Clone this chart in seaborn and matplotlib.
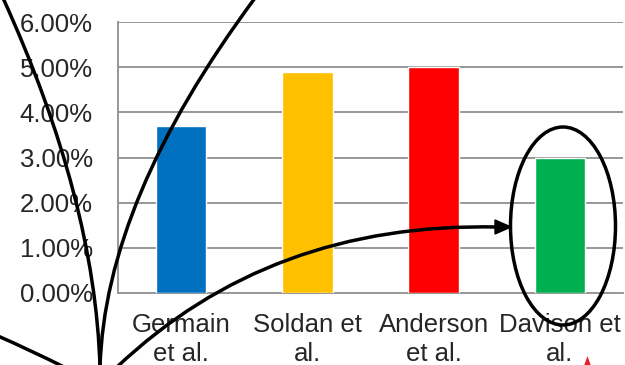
import matplotlib
matplotlib.use("Agg")
import matplotlib.pyplot as plt
import seaborn as sns
import pandas as pd
from matplotlib.path import Path
from matplotlib.patches import PathPatch, Ellipse, Polygon
from matplotlib.ticker import PercentFormatter

categories = ["Germain\net al.", "Soldan et\nal.", "Anderson\net al.", "Davison et\nal."]
values = [0.037, 0.049, 0.050, 0.030]
colors = ["#0070C0", "#FFC000", "#FF0000", "#00B050"]
yticks = [0, 0.01, 0.02, 0.03, 0.04, 0.05, 0.06]

sns.set_style("white")
plt.rcParams["font.family"] = ["Liberation Sans", "DejaVu Sans"]

W, H = 625, 365
fig = plt.figure(figsize=(W / 100, H / 100), dpi=100)
ax = fig.add_axes([118 / W, 1 - 293 / H, (623 - 118) / W, (293 - 22) / H])

df = pd.DataFrame({"cat": categories, "val": values})
sns.barplot(data=df, x="cat", y="val", hue="cat", palette=colors, legend=False,
            width=0.4, saturation=1, ax=ax, zorder=3)

grid_c = "#979797"
FS = 18.5
ax.set_ylim(0, 0.06)
ax.set_yticks(yticks)
ax.yaxis.set_major_formatter(PercentFormatter(1, decimals=2))
ax.set_xlim(-0.5, 3.5)
ax.set_xticks([-0.5, 0.5, 1.5, 2.5, 3.5], minor=False)
ax.set_xticklabels([])
ax.set_xticks([0, 1, 2, 3], minor=True)
ax.set_xticklabels(categories, minor=True)
ax.tick_params(axis="x", which="major", length=6, width=1.4, color=grid_c, direction="out")
ax.tick_params(axis="x", which="minor", length=0, pad=14.5, labelsize=FS)
ax.tick_params(axis="y", length=6, width=1.4, color=grid_c, pad=12, labelsize=FS)
ax.yaxis.grid(True, color=grid_c, linewidth=1.4, zorder=0)
ax.set_axisbelow(True)
for s in ["top", "right"]:
    ax.spines[s].set_visible(False)
for s in ["left", "bottom"]:
    ax.spines[s].set_color(grid_c)
    ax.spines[s].set_linewidth(1.4)
ax.set_xlabel("")
ax.set_ylabel("")
for lbl in ax.get_xticklabels(minor=True):
    lbl.set_linespacing(1.25)


def P(x, y):
    return (x / W, 1 - y / H)


def quad(p0, c, p1, lw=2.5, color="black"):
    path = Path([P(*p0), P(*c), P(*p1)], [Path.MOVETO, Path.CURVE3, Path.CURVE3])
    fig.add_artist(PathPatch(path, fill=False, lw=lw, edgecolor=color,
                             transform=fig.transFigure, zorder=10, capstyle="round"))


quad((3, -2), (95, 200), (100, 367))
quad((100, 367), (105, 200), (255, -2))
quad((-2, 336), (30, 350), (64, 367))
quad((117, 367), (270, 222), (497, 227))
fig.add_artist(Polygon([P(511, 227), P(495, 220), P(495, 234)], closed=True,
                       facecolor="black", edgecolor="black", transform=fig.transFigure, zorder=10))
fig.add_artist(Ellipse(P(563, 226), 105 / W, 198 / H, fill=False, lw=2.5,
                       edgecolor="black", transform=fig.transFigure, zorder=10))
fig.add_artist(Polygon([P(584, 366), P(591, 366), P(587.5, 356)], closed=True,
                       facecolor="#E8202A", edgecolor="none", transform=fig.transFigure, zorder=10))

fig.savefig("out.png", dpi=100)
